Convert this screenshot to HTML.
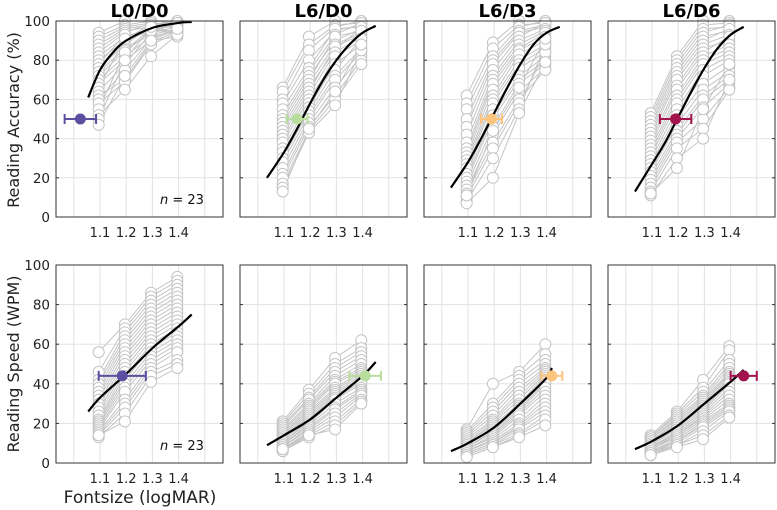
<!DOCTYPE html>
<html><head><meta charset="utf-8">
<style>
body{margin:0;background:#fff;}
svg{display:block;font-family:"DejaVu Sans","Liberation Sans",sans-serif;}
</style></head>
<body>
<svg id="chart" width="777" height="510" viewBox="0 0 777 510" xmlns="http://www.w3.org/2000/svg"></svg>
<script>
const panelTitles = ["L0/D0","L6/D0","L6/D3","L6/D6"];
const xTicks = [1.1,1.2,1.3,1.4];
const xTickLabels = ["1.1","1.2","1.3","1.4"];
const yTicks = [0,20,40,60,80,100];
const colors = ["#5a4fa0","#b9dd9d","#fdc47e","#a3134d"];

const accData = [
[[94,100,100,100],[92,98,100,99],[90,97,99,98],[88,96,98,100],[86,95,97,97],[84,94,99,96],[82,92,96,98],[80,90,95,95],[78,93,94,97],[76,88,97,94],[74,86,93,96],[72,85,96,93],[70,82,92,95],[68,80,90,92],[66,91,98,97],[64,78,94,99],[62,70,89,95],[60,75,91,96],[58,69,88,94],[55,84,95,98],[52,65,82,93],[50,80,97,99],[47,72,90,96]],
[[66,92,100,100],[64,88,98,99],[60,85,97,100],[58,80,95,98],[55,76,96,97],[52,74,93,99],[50,72,90,96],[48,70,92,95],[46,68,88,94],[44,66,85,97],[42,64,87,93],[40,62,84,92],[38,60,80,95],[35,58,82,90],[33,56,78,88],[30,54,75,91],[28,52,72,86],[25,50,70,84],[22,48,66,82],[20,46,62,80],[17,44,60,78],[15,43,57,85],[13,45,64,88]],
[[62,89,100,100],[58,86,98,99],[55,82,97,100],[50,80,95,98],[46,78,94,97],[42,75,92,99],[38,72,90,96],[35,70,88,95],[33,68,86,94],[31,65,85,92],[29,62,83,90],[27,60,80,88],[25,58,78,86],[22,55,76,84],[20,52,72,82],[18,50,70,80],[16,46,68,78],[14,42,64,76],[12,38,60,75],[10,35,58,84],[8,30,55,88],[7,20,53,79],[11,44,66,91]],
[[53,82,100,100],[51,80,98,99],[49,78,96,97],[47,76,94,98],[45,74,92,95],[43,72,90,96],[41,70,88,93],[39,67,86,90],[37,65,84,92],[35,62,82,88],[33,60,80,86],[31,58,78,84],[29,55,75,82],[27,52,72,80],[25,50,68,77],[23,47,65,74],[21,44,62,72],[19,42,60,70],[17,40,56,68],[15,38,50,66],[13,35,45,65],[11,30,40,70],[12,25,55,78]]
];
const spdData = [
[[56,70,86,94],[46,68,84,92],[42,66,82,90],[40,64,80,88],[38,62,78,86],[36,60,76,84],[34,58,74,82],[32,56,72,80],[30,54,70,78],[28,52,68,76],[26,50,66,74],[24,48,64,72],[22,46,62,70],[21,44,60,68],[20,42,58,66],[19,40,56,64],[18,38,54,62],[17,36,52,60],[16,32,50,58],[15,30,48,56],[14,28,46,52],[13,25,44,50],[14,21,41,48]],
[[21,37,53,62],[20,35,50,58],[19,33,48,56],[18,32,46,54],[17,30,44,52],[16,29,42,50],[15,28,41,48],[14,27,40,47],[13,26,38,46],[12,25,37,45],[12,24,36,44],[11,23,35,43],[10,22,34,42],[10,21,33,41],[9,20,32,40],[9,19,30,38],[8,18,28,37],[8,17,27,36],[7,16,25,35],[7,15,23,34],[6,14,21,32],[6,13,19,31],[7,14,17,30]],
[[17,40,46,60],[16,30,44,55],[15,28,42,52],[14,26,40,50],[13,24,38,48],[12,22,36,47],[11,21,34,46],[10,20,32,45],[10,19,30,44],[9,18,29,43],[9,17,28,42],[8,16,27,41],[8,15,26,40],[7,14,25,38],[7,13,24,36],[6,12,22,34],[6,11,20,32],[5,10,19,30],[5,10,18,28],[4,9,17,26],[4,9,15,24],[3,8,14,22],[3,8,13,19]],
[[14,26,42,59],[13,25,38,57],[13,24,36,52],[12,23,34,50],[12,22,33,48],[11,21,32,46],[11,20,31,45],[10,19,30,44],[10,18,29,43],[9,18,28,42],[9,17,27,41],[8,16,26,40],[8,15,25,38],[8,14,24,36],[7,14,23,34],[7,13,22,32],[6,12,21,30],[6,11,20,29],[5,11,19,28],[5,10,18,27],[5,9,16,26],[4,9,14,24],[4,8,12,23]]
];
const accCurveX = [[1.055,1.1,1.15,1.2,1.3,1.4,1.45],[1.035,1.1,1.15,1.2,1.25,1.3,1.35,1.4,1.45],[1.035,1.1,1.15,1.2,1.25,1.3,1.35,1.4,1.45],[1.035,1.1,1.15,1.2,1.25,1.3,1.35,1.4,1.45]];
const accCurveY = [[61,75,84,90,96.5,99,99.5],[20,33,45,58,70,80,88,94,97.5],[15,28,40,53,66,78,88,94,97],[13,27,38,51,64,76,86,93,97]];
const spdCurveX = [[1.055,1.1,1.2,1.3,1.4,1.45],[1.035,1.1,1.2,1.3,1.4,1.45],[1.035,1.1,1.2,1.3,1.4,1.42],[1.035,1.1,1.2,1.3,1.4,1.45]];
const spdCurveY = [[26,33,45,58,69,75],[9,14,22,33,44,51],[6,10,18,30,43,48],[7,11,19,30,41,47]];
const accMeanX = [1.025,1.15,1.19,1.19], accMeanY=[50,50,50,50], accErr=[0.06,0.04,0.04,0.06];
const spdMeanX = [1.185,1.41,1.42,1.45], spdMeanY=[44,44,44,44], spdErr=[0.09,0.06,0.04,0.05];

const NS="http://www.w3.org/2000/svg";
const svg=document.getElementById('chart');
function mk(tag,attrs,parent){const e=document.createElementNS(NS,tag);for(const k in attrs)e.setAttribute(k,attrs[k]);(parent||svg).appendChild(e);return e;}
const panelX=[56,240,424,608], PW=167;
const rows=[{top:21,bot:217,data:accData,cx:accCurveX,cy:accCurveY,mx:accMeanX,my:accMeanY,me:accErr,name:'accuracy'},
            {top:265,bot:463,data:spdData,cx:spdCurveX,cy:spdCurveY,mx:spdMeanX,my:spdMeanY,me:spdErr,name:'speed'}];
function smooth(pts){let d='M'+pts[0][0]+','+pts[0][1];for(let i=0;i<pts.length-1;i++){const p0=pts[Math.max(0,i-1)],p1=pts[i],p2=pts[i+1],p3=pts[Math.min(pts.length-1,i+2)];
 d+=' C'+(p1[0]+(p2[0]-p0[0])/6)+','+(p1[1]+(p2[1]-p0[1])/6)+' '+(p2[0]-(p3[0]-p1[0])/6)+','+(p2[1]-(p3[1]-p1[1])/6)+' '+p2[0]+','+p2[1];}return d;}

rows.forEach((r,ri)=>{
 panelX.forEach((x0,pi)=>{
  const g=mk('g',{});
  
  
  const sx=v=>x0+44+(v-1.1)*262;
  const sy=v=>r.bot-(v/100)*(r.bot-r.top);
  [1.0,1.1,1.2,1.3,1.4,1.5].forEach(v=>{const l=mk('line',{x1:sx(v),x2:sx(v),y1:r.top,y2:r.bot,stroke:'#e2e2e2','stroke-width':1},g);});
  yTicks.forEach(v=>{const l=mk('line',{x1:x0,x2:x0+PW,y1:sy(v),y2:sy(v),stroke:'#e2e2e2','stroke-width':1},g);});
  const clipId='c'+ri+pi;
  const cp=mk('clipPath',{id:clipId},g);mk('rect',{x:x0-8,y:r.top-8,width:PW+16,height:r.bot-r.top+16},cp);
  const dg=mk('g',{'clip-path':'url(#'+clipId+')'},g);
  const subj=r.data[pi];
  subj.forEach(s=>{const pl=mk('polyline',{points:s.map((v,i)=>sx(xTicks[i]-0.005)+','+sy(v)).join(' '),fill:'none',stroke:'#c4c4c4','stroke-width':1},dg);
   });
  subj.forEach(s=>s.forEach((v,i)=>{const c=mk('circle',{cx:sx(xTicks[i]-0.005),cy:sy(v),r:5.5,fill:'#fff',stroke:'#c4c4c4','stroke-width':1},dg);
   }));
  const cpts=r.cx[pi].map((v,i)=>[sx(v),sy(r.cy[pi][i])]);
  const fit=mk('path',{d:smooth(cpts),fill:'none',stroke:'#000','stroke-width':2.2},g);
  
  const col=colors[pi], mx=r.mx[pi], my=sy(r.my[pi]), e=r.me[pi];
  const eb=mk('path',{d:'M'+sx(mx-e)+','+my+'H'+sx(mx+e)+'M'+sx(mx-e)+','+(my-5)+'V'+(my+5)+'M'+sx(mx+e)+','+(my-5)+'V'+(my+5),stroke:col,'stroke-width':2,fill:'none'},g);
  
  const mc=mk('circle',{cx:sx(mx),cy:my,r:5.5,fill:col},g);
  
  const fr=mk('rect',{x:x0,y:r.top,width:PW,height:r.bot-r.top,fill:'none',stroke:'#333','stroke-width':1},g);
  
  yTicks.forEach(v=>{mk('line',{x1:x0,x2:x0+3,y1:sy(v),y2:sy(v),stroke:'#333'},g);mk('line',{x1:x0+PW-3,x2:x0+PW,y1:sy(v),y2:sy(v),stroke:'#333'},g);});
  xTicks.forEach((v,i)=>{const t=mk('text',{x:sx(v),y:r.bot+20,'text-anchor':'middle','font-size':13,fill:'#222'},g);t.textContent=xTickLabels[i];
   });
  if(pi===0){
   yTicks.forEach(v=>{const t=mk('text',{x:x0-6,y:sy(v)+5,'text-anchor':'end','font-size':13.5,fill:'#222'},g);t.textContent=v;
    });
   const n=mk('text',{x:x0+104,y:r.bot-13,'font-size':13,fill:'#111'},g);n.innerHTML='<tspan font-style="italic">n</tspan> = 23';
   
  }
  if(ri===0){const t=mk('text',{x:x0+PW/2,y:17,'text-anchor':'middle','font-size':18,'font-weight':'bold',fill:'#000'},g);t.textContent=panelTitles[pi];
   }
 });
});
let t=mk('text',{x:0,y:0,transform:'translate(19,120) rotate(-90)','text-anchor':'middle','font-size':16,fill:'#222'});t.textContent='Reading Accuracy (%)';

t=mk('text',{x:0,y:0,transform:'translate(19,364) rotate(-90)','text-anchor':'middle','font-size':16,fill:'#222'});t.textContent='Reading Speed (WPM)';

t=mk('text',{x:140,y:503,'text-anchor':'middle','font-size':17,fill:'#222'});t.textContent='Fontsize (logMAR)';

</script>
</body></html>
